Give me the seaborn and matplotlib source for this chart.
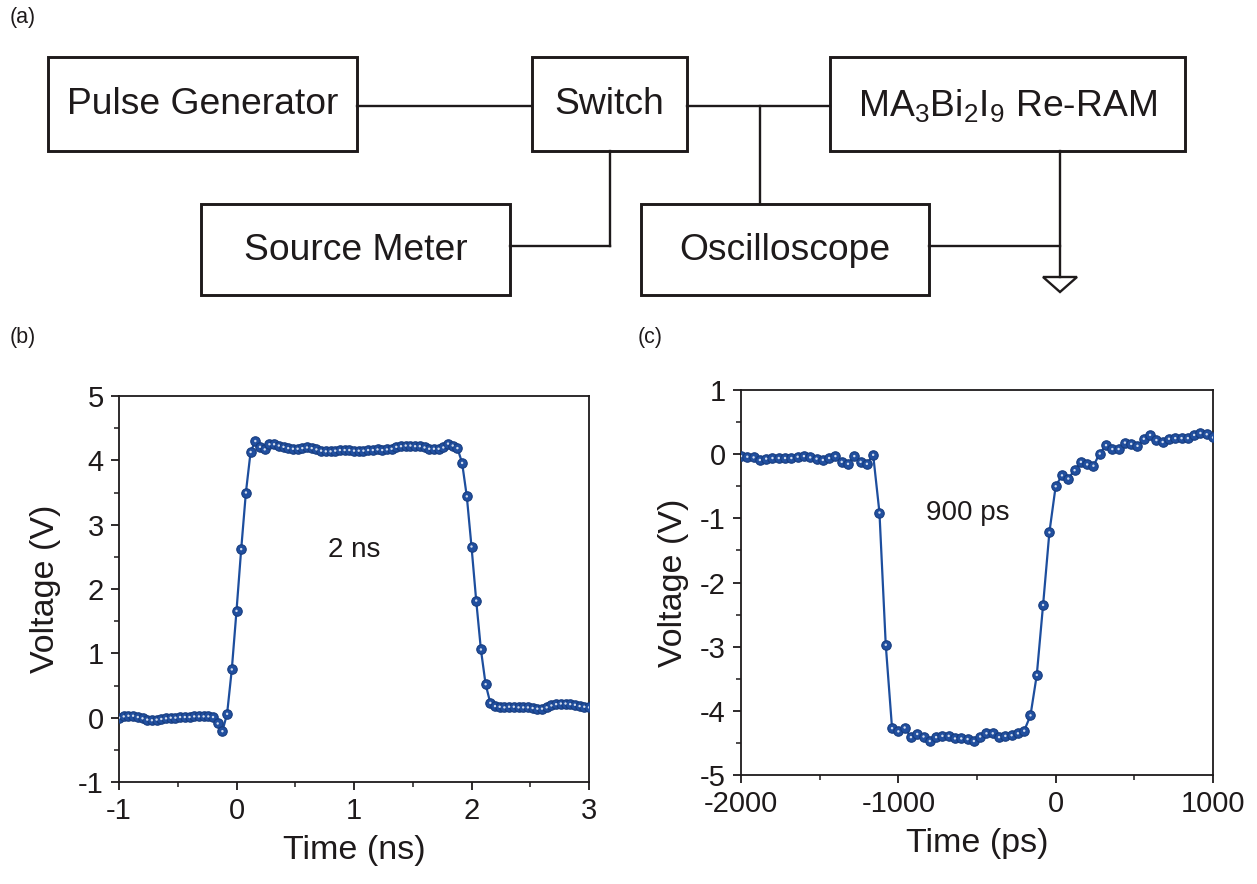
import numpy as np
import pandas as pd
import matplotlib
matplotlib.use("Agg")
import matplotlib.pyplot as plt
from matplotlib.patches import Rectangle, Polygon
import seaborn as sns

# ---------------- data ----------------
# panel (b): 2 ns pulse, sampled every 0.04 ns from -1 to 3 ns
time_ns = np.linspace(-1.0, 3.0, 101)
volt_b = [
    0.00, 0.02, 0.03, 0.03, 0.01, -0.01, -0.03, -0.04, -0.03, -0.02,
    -0.01, 0.00, 0.00, 0.01, 0.01, 0.01, 0.02, 0.02, 0.02, 0.02,
    0.01, -0.09, -0.21, 0.06, 0.75, 1.66, 2.62, 3.50, 4.13,
    4.30, 4.21, 4.17, 4.25, 4.25, 4.23, 4.21, 4.19, 4.18, 4.18,
    4.19, 4.20, 4.19, 4.17, 4.15, 4.14, 4.14, 4.15, 4.16, 4.16,
    4.16, 4.15, 4.15, 4.15, 4.16, 4.16, 4.17, 4.16, 4.17, 4.18,
    4.21, 4.22, 4.23, 4.23, 4.22, 4.22, 4.20, 4.18, 4.18, 4.18,
    4.20, 4.26, 4.23, 4.19,
    3.96, 3.44, 2.66, 1.82, 1.06, 0.52, 0.23, 0.18,
    0.17, 0.16, 0.17, 0.17, 0.16, 0.16, 0.16, 0.15, 0.14, 0.14,
    0.16, 0.19, 0.21, 0.22, 0.22, 0.21, 0.20, 0.18, 0.17, 0.16,
]

# panel (c): 900 ps pulse, sampled every 40 ps from -2000 to 1000 ps
time_ps = np.linspace(-2000, 1000, 76)
volt_c = [
    -0.03, -0.04, -0.05, -0.09, -0.07, -0.06, -0.06, -0.06, -0.06, -0.04,
    -0.03, -0.05, -0.07, -0.09, -0.06, -0.03, -0.12, -0.15, -0.03, -0.12,
    -0.15, -0.01,
    -0.91, -2.97, -4.27,
    -4.32, -4.26, -4.41, -4.36, -4.40, -4.47, -4.41, -4.39, -4.39, -4.43,
    -4.43, -4.44, -4.47, -4.40, -4.35, -4.35, -4.41, -4.39, -4.38, -4.35,
    -4.31,
    -4.07, -3.44, -2.35, -1.22, -0.50,
    -0.33, -0.38, -0.25, -0.12, -0.16, -0.18, 0.01, 0.14, 0.08, 0.08,
    0.18, 0.16, 0.13, 0.24, 0.30, 0.22, 0.19, 0.24, 0.25, 0.25,
    0.25, 0.30, 0.33, 0.31, 0.26,
]

xticks_b = [-1, 0, 1, 2, 3]
yticks_b = [-1, 0, 1, 2, 3, 4, 5]
xticks_c = [-2000, -1000, 0, 1000]
yticks_c = [-5, -4, -3, -2, -1, 0, 1]

# ---------------- style ----------------
sns.set_style("ticks")
plt.rcParams["font.family"] = ["Liberation Sans", "DejaVu Sans"]
plt.rcParams["mathtext.fontset"] = "custom"
plt.rcParams["mathtext.rm"] = "Liberation Sans"
plt.rcParams["mathtext.it"] = "Liberation Sans:italic"
plt.rcParams["mathtext.default"] = "regular"

W, H = 1257, 884
fig = plt.figure(figsize=(W / 100, H / 100), dpi=100)
ink = "#1e1a1b"
blue = "#1d4e9e"

# ---------------- panel (a): block diagram ----------------
axd = fig.add_axes([0, 1 - 310 / H, 1, 310 / H])
axd.set_xlim(0, W)
axd.set_ylim(310, 0)
axd.axis("off")

boxes = [
    ("Pulse Generator", 48, 57, 357, 151),
    ("Switch", 532, 57, 687, 151),
    (r"MA$_3$Bi$_2$I$_9$ Re-RAM", 830, 57, 1185, 151),
    ("Source Meter", 201, 204, 510, 295),
    ("Oscilloscope", 641, 204, 929, 295),
]
for label, x0, y0, x1, y1 in boxes:
    axd.add_patch(Rectangle((x0, y0), x1 - x0, y1 - y0, fill=False,
                            edgecolor=ink, linewidth=2.1))
    axd.text((x0 + x1) / 2, (y0 + y1) / 2 + 1, label, ha="center", va="center",
             fontsize=26.8, color=ink)

lw = 1.7
segs = [
    ([357, 532], [106, 106]),
    ([687, 830], [106, 106]),
    ([760, 760], [106, 204]),
    ([610, 610], [151, 246]),
    ([610, 510], [246, 246]),
    ([929, 1060], [246, 246]),
    ([1060, 1060], [151, 277]),
]
for xs, ys in segs:
    axd.plot(xs, ys, color=ink, linewidth=lw, solid_capstyle="projecting")
axd.add_patch(Polygon([[1043, 277], [1077, 277], [1060, 292]], closed=True,
                      fill=False, edgecolor=ink, linewidth=lw))

fig.text(10 / W, 1 - 18 / H, "(a)", fontsize=15.5, ha="left", va="center", color=ink)
fig.text(10 / W, 1 - 338 / H, "(b)", fontsize=15.5, ha="left", va="center", color=ink)
fig.text(638 / W, 1 - 338 / H, "(c)", fontsize=15.5, ha="left", va="center", color=ink)

# ---------------- panels (b) and (c) ----------------
axb = fig.add_axes([119 / W, 1 - 782 / H, 470 / W, 386 / H])
axc = fig.add_axes([741 / W, 1 - 775 / H, 472 / W, 385 / H])

df_b = pd.DataFrame({"t": time_ns, "v": volt_b})
df_c = pd.DataFrame({"t": time_ps, "v": volt_c})


def draw(ax, df):
    sns.lineplot(data=df, x="t", y="v", ax=ax, color=blue, linewidth=1.6,
                 marker="o", markersize=6.8, markerfacecolor="#214f9f",
                 markeredgecolor="#173d80", markeredgewidth=0.8,
                 errorbar=None, zorder=3)
    sns.scatterplot(data=df, x="t", y="v", ax=ax, color="#e8eef8", s=3.0,
                    edgecolor="none", alpha=0.9, zorder=4)


draw(axb, df_b)
draw(axc, df_c)

for ax in (axb, axc):
    for sp in ax.spines.values():
        sp.set_visible(True)
        sp.set_linewidth(1.3)
        sp.set_color(ink)
    ax.tick_params(axis="both", which="major", direction="out", length=6,
                   width=1.3, labelsize=21, pad=5, colors=ink,
                   top=False, right=False)
    ax.tick_params(axis="both", which="minor", direction="out", length=3.5,
                   width=1.1, top=False, right=False, colors=ink)
    ax.set_facecolor("white")

axb.set_xlim(-1, 3)
axb.set_ylim(-1, 5)
axb.set_xticks(xticks_b)
axb.set_yticks(yticks_b)
axb.set_xticks(np.array(xticks_b[:-1]) + 0.5, minor=True)
axb.set_yticks(np.array(yticks_b[:-1]) + 0.5, minor=True)
axb.set_xticklabels([str(v) for v in xticks_b])
axb.set_yticklabels([str(v) for v in yticks_b])
axb.set_xlabel("Time (ns)", fontsize=24.5, labelpad=7, color=ink)
axb.set_ylabel("Voltage (V)", fontsize=24.5, labelpad=12, color=ink)
axb.text(1.0, 2.6, "2 ns", fontsize=20, ha="center", va="center", color=ink)

axc.set_xlim(-2000, 1000)
axc.set_ylim(-5, 1)
axc.set_xticks(xticks_c)
axc.set_yticks(yticks_c)
axc.set_xticks(np.array(xticks_c[:-1]) + 500, minor=True)
axc.set_yticks(np.array(yticks_c[:-1]) + 0.5, minor=True)
axc.set_xticklabels([str(v) for v in xticks_c])
axc.set_yticklabels([str(v) for v in yticks_c])
axc.set_xlabel("Time (ps)", fontsize=24.5, labelpad=7, color=ink)
axc.set_ylabel("Voltage (V)", fontsize=24.5, labelpad=8, color=ink)
axc.text(-560, -0.92, "900 ps", fontsize=20, ha="center", va="center", color=ink)

for ax in (axb, axc):
    leg = ax.get_legend()
    if leg is not None:
        leg.remove()

fig.savefig("out.png", dpi=100, facecolor="white")
